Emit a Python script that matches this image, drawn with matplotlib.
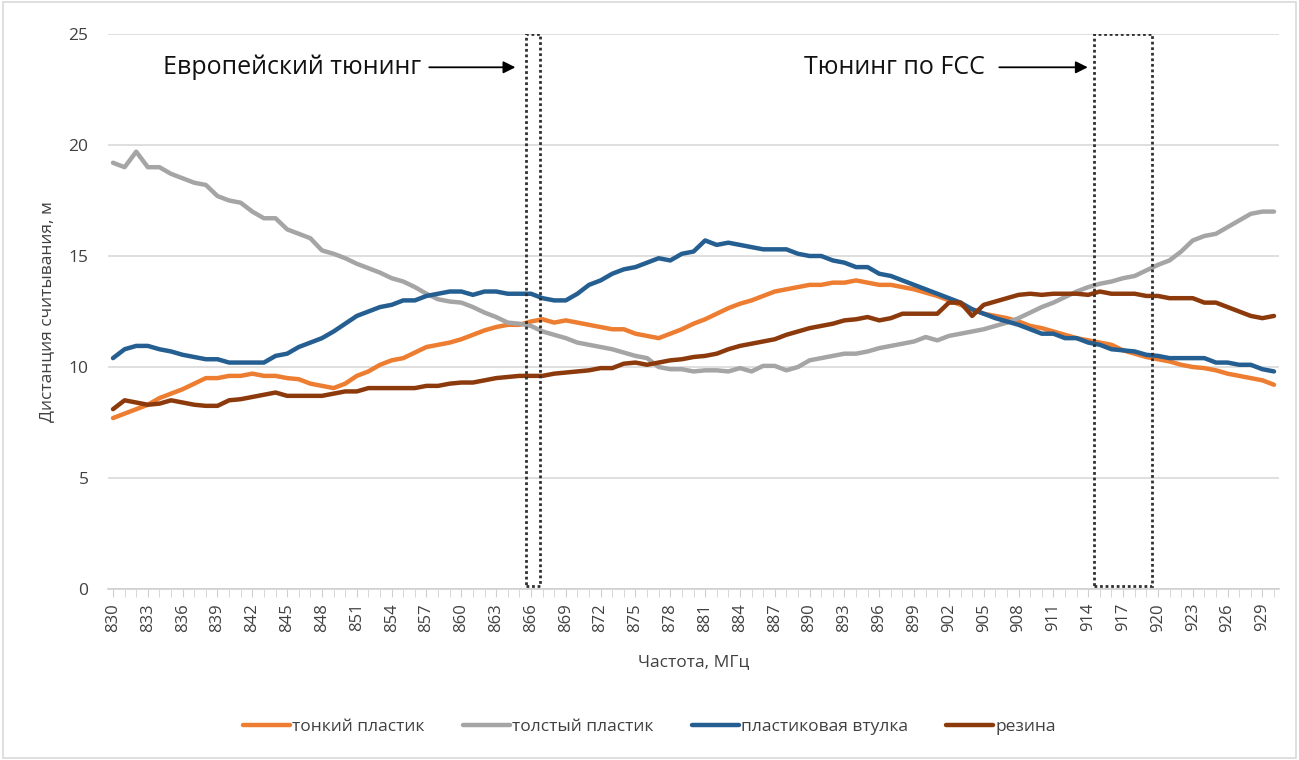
import numpy as np
import matplotlib
matplotlib.use('Agg')
import matplotlib.pyplot as plt
from matplotlib.patches import Rectangle

plt.rcParams['font.family'] = ['Open Sans', 'DejaVu Sans']

# частоты, МГц
freq = np.arange(830, 931)

# тонкий пластик
thin = [7.7, 7.9, 8.1, 8.3, 8.6, 8.8, 9.0, 9.25, 9.5, 9.5,
        9.6, 9.6, 9.7, 9.6, 9.6, 9.5, 9.45, 9.25, 9.15, 9.05,
        9.25, 9.6, 9.8, 10.1, 10.3, 10.4, 10.65, 10.9, 11.0, 11.1,
        11.25, 11.45, 11.65, 11.8, 11.9, 11.9, 12.05, 12.15, 12.0, 12.1,
        12.0, 11.9, 11.8, 11.7, 11.7, 11.5, 11.4, 11.3, 11.5, 11.7,
        11.95, 12.15, 12.4, 12.65, 12.85, 13.0, 13.2, 13.4, 13.5, 13.6,
        13.7, 13.7, 13.8, 13.8, 13.9, 13.8, 13.7, 13.7, 13.6, 13.5,
        13.35, 13.2, 13.0, 12.8, 12.6, 12.4, 12.3, 12.2, 12.05, 11.85,
        11.75, 11.6, 11.45, 11.3, 11.2, 11.1, 11.0, 10.75, 10.6, 10.45,
        10.35, 10.25, 10.1, 10.0, 9.95, 9.85, 9.7, 9.6, 9.5, 9.4, 9.2]

# толстый пластик
thick = [19.2, 19.0, 19.7, 19.0, 19.0, 18.7, 18.5, 18.3, 18.2, 17.7,
         17.5, 17.4, 17.0, 16.7, 16.7, 16.2, 16.0, 15.8, 15.25, 15.1,
         14.9, 14.65, 14.45, 14.25, 14.0, 13.85, 13.6, 13.3, 13.05, 12.95,
         12.9, 12.7, 12.45, 12.25, 12.0, 11.95, 11.85, 11.6, 11.45, 11.3,
         11.1, 11.0, 10.9, 10.8, 10.65, 10.5, 10.4, 10.0, 9.9, 9.9,
         9.8, 9.85, 9.85, 9.8, 9.95, 9.8, 10.05, 10.05, 9.85, 10.0,
         10.3, 10.4, 10.5, 10.6, 10.6, 10.7, 10.85, 10.95, 11.05, 11.15,
         11.35, 11.2, 11.4, 11.5, 11.6, 11.7, 11.85, 12.0, 12.2, 12.45,
         12.7, 12.9, 13.15, 13.4, 13.6, 13.75, 13.85, 14.0, 14.1, 14.35,
         14.6, 14.8, 15.2, 15.7, 15.9, 16.0, 16.3, 16.6, 16.9, 17.0, 17.0]

# пластиковая втулка
sleeve = [10.4, 10.8, 10.95, 10.95, 10.8, 10.7, 10.55, 10.45, 10.35, 10.35,
          10.2, 10.2, 10.2, 10.2, 10.5, 10.6, 10.9, 11.1, 11.3, 11.6,
          11.95, 12.3, 12.5, 12.7, 12.8, 13.0, 13.0, 13.2, 13.3, 13.4,
          13.4, 13.25, 13.4, 13.4, 13.3, 13.3, 13.3, 13.1, 13.0, 13.0,
          13.3, 13.7, 13.9, 14.2, 14.4, 14.5, 14.7, 14.9, 14.8, 15.1,
          15.2, 15.7, 15.5, 15.6, 15.5, 15.4, 15.3, 15.3, 15.3, 15.1,
          15.0, 15.0, 14.8, 14.7, 14.5, 14.5, 14.2, 14.1, 13.9, 13.7,
          13.5, 13.3, 13.1, 12.9, 12.6, 12.4, 12.2, 12.05, 11.9, 11.7,
          11.5, 11.5, 11.3, 11.3, 11.1, 11.0, 10.8, 10.75, 10.7, 10.55,
          10.5, 10.4, 10.4, 10.4, 10.4, 10.2, 10.2, 10.1, 10.1, 9.9, 9.8]

# резина
rubber = [8.1, 8.5, 8.4, 8.3, 8.35, 8.5, 8.4, 8.3, 8.25, 8.25,
          8.5, 8.55, 8.65, 8.75, 8.85, 8.7, 8.7, 8.7, 8.7, 8.8,
          8.9, 8.9, 9.05, 9.05, 9.05, 9.05, 9.05, 9.15, 9.15, 9.25,
          9.3, 9.3, 9.4, 9.5, 9.55, 9.6, 9.6, 9.6, 9.7, 9.75,
          9.8, 9.85, 9.95, 9.95, 10.15, 10.2, 10.1, 10.2, 10.3, 10.35,
          10.45, 10.5, 10.6, 10.8, 10.95, 11.05, 11.15, 11.25, 11.45, 11.6,
          11.75, 11.85, 11.95, 12.1, 12.15, 12.25, 12.1, 12.2, 12.4, 12.4,
          12.4, 12.4, 12.9, 12.9, 12.3, 12.8, 12.95, 13.1, 13.25, 13.3,
          13.25, 13.3, 13.3, 13.3, 13.25, 13.4, 13.3, 13.3, 13.3, 13.2,
          13.2, 13.1, 13.1, 13.1, 12.9, 12.9, 12.7, 12.5, 12.3, 12.2, 12.3]

labels = ['тонкий пластик', 'толстый пластик', 'пластиковая втулка', 'резина']
colors = ['#ED7D31', '#A5A5A5', '#255E91', '#8C3A0C']

# полосы тюнинга (границы рамок по оси частот)
eu_band = (865.6, 866.8)
fcc_band = (914.5, 919.5)

fig = plt.figure(figsize=(12.99, 7.6), dpi=100)
ax = fig.add_axes([108 / 1299, 1 - 589 / 760, (1279 - 108) / 1299, (589 - 34) / 760])

for series, lab, col in zip([thin, thick, sleeve, rubber], labels, colors):
    ax.plot(freq, series, color=col, lw=3.2, label=lab, solid_capstyle='round',
            solid_joinstyle='round', zorder=3)

ax.set_xlim(830 - 5 / 11.61, 930 + 5 / 11.61)
ax.set_ylim(0, 25)
ax.set_yticks([0, 5, 10, 15, 20, 25])
ax.grid(axis='y', color='#d9d9d9', lw=1.2)
ax.set_axisbelow(True)

for s in ['left', 'right', 'top']:
    ax.spines[s].set_visible(False)
ax.spines['bottom'].set_color('#d0d0d0')
ax.spines['bottom'].set_linewidth(1.2)

ax.set_xticks(freq[::3])
ax.set_xticklabels([str(f) for f in freq[::3]], rotation=90)
ax.set_xticks(freq, minor=True)
ax.tick_params(axis='x', which='both', length=6, color='#d0d0d0', labelsize=12,
               labelcolor='#404040', pad=4)
ax.tick_params(axis='y', length=0, labelsize=12.5, labelcolor='#404040', pad=14)

ax.set_xlabel('Частота, МГц', fontsize=12.5, color='#404040', labelpad=16)
ax.set_ylabel('Дистанция считывания, м', fontsize=12.5, color='#404040', labelpad=10)

# рамки диапазонов
for band in [eu_band, fcc_band]:
    ax.add_patch(Rectangle((band[0], 0.15), band[1] - band[0], 24.85, fill=False,
                           ec='#303030', ls=(0, (1, 1)), lw=2, zorder=4))

ax.annotate('', xy=(eu_band[0] - 0.7, 23.5), xytext=(857.0, 23.5),
            arrowprops=dict(arrowstyle='-|>', color='black', lw=1.3, mutation_scale=18))
ax.text(856.5, 23.5, 'Европейский тюнинг', ha='right', va='center', fontsize=18, color='#111111')
ax.annotate('', xy=(fcc_band[0] - 0.3, 23.5), xytext=(906.1, 23.5),
            arrowprops=dict(arrowstyle='-|>', color='black', lw=1.3, mutation_scale=18))
ax.text(905.1, 23.5, 'Тюнинг по FCC', ha='right', va='center', fontsize=18, color='#111111')

leg = fig.legend(loc='center', bbox_to_anchor=(0.5, 1 - 727 / 760), ncol=4, frameon=False,
                 fontsize=12.5, handlelength=2.7, handletextpad=0.15, columnspacing=2.2)
for t in leg.get_texts():
    t.set_color('#404040')

fig.patches.append(Rectangle((0.002, 0.002), 0.996, 0.996, transform=fig.transFigure,
                             fill=False, ec='#d9d9d9', lw=1.2))

fig.savefig('out.png', dpi=100)
